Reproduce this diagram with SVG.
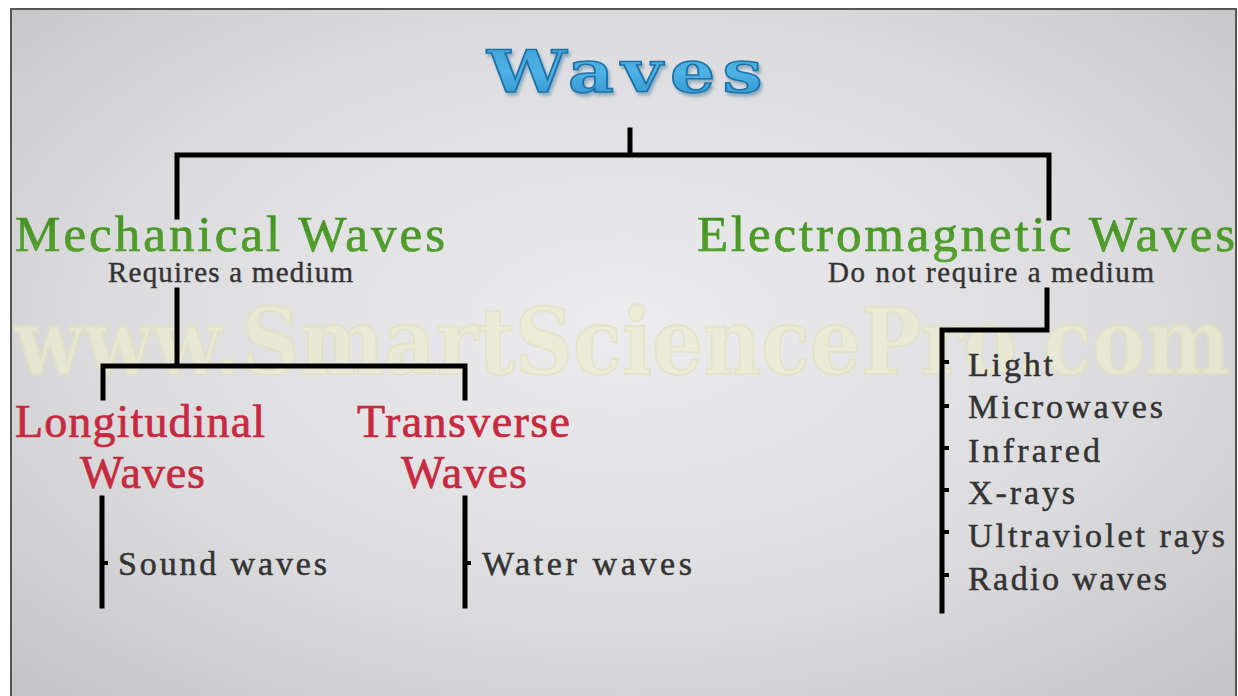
<svg xmlns="http://www.w3.org/2000/svg" width="1238" height="696" viewBox="0 0 1238 696">
<defs>
<radialGradient id="bg" cx="0.5" cy="0.45" r="0.7">
<stop offset="0" stop-color="#ececee"/>
<stop offset="0.6" stop-color="#dcdcde"/>
<stop offset="1" stop-color="#c6c6c8"/>
</radialGradient>
<linearGradient id="blue" x1="0" y1="0" x2="0" y2="1">
<stop offset="0" stop-color="#3a9bd0"/>
<stop offset="0.5" stop-color="#4fb3e6"/>
<stop offset="1" stop-color="#2a8fca"/>
</linearGradient>
<linearGradient id="green" x1="0" y1="0" x2="0" y2="1">
<stop offset="0" stop-color="#3f8a22"/>
<stop offset="1" stop-color="#5aa830"/>
</linearGradient>
<filter id="sh" x="-10%" y="-20%" width="120%" height="150%">
<feDropShadow dx="2" dy="3" stdDeviation="1.5" flood-color="#1b5f8c" flood-opacity="0.4"/>
</filter>
</defs>
<style>
.ln{stroke:#000;stroke-width:5;fill:none;stroke-linecap:square}
.tk{stroke:#000;stroke-width:4;fill:none}
.g{font-family:"Liberation Serif",serif;font-size:51px;fill:url(#green);stroke:#4a9a28;stroke-width:0.7}
.s{font-family:"Liberation Serif",serif;font-size:29px;fill:#333;stroke:#333;stroke-width:0.4}
.r{font-family:"Liberation Serif",serif;font-size:46px;fill:#c62a40;stroke:#c62a40;stroke-width:0.7}
.i{font-family:"Liberation Serif",serif;font-size:34px;fill:#333;stroke:#333;stroke-width:0.5}
.wm{font-family:"DejaVu Serif",serif;font-weight:bold;font-size:92px;fill:#ececcf;stroke:#e2e2bd;stroke-width:2;opacity:0.7}
.t{font-family:"DejaVu Serif",serif;font-weight:bold;font-size:57px;letter-spacing:6px}
</style>
<rect x="0" y="0" width="1238" height="696" fill="#fff"/>
<rect x="11" y="9" width="1225" height="700" fill="url(#bg)" stroke="#555" stroke-width="2"/>
<text class="wm" x="15" y="374" textLength="1215" lengthAdjust="spacingAndGlyphs">www.SmartSciencePro.com</text>
<g id="connectors">
<path class="ln" d="M630 130 V155 M177 217 V155 H1049 V218"/>
<path class="ln" d="M177 290 V366 M103 398 V366 H465 V398"/>
<path class="ln" d="M102 498 V606 M465 498 V606"/>
<path class="tk" d="M102 563 H108 M465 563 H471"/>
<path class="ln" d="M1047 290 V330 H942 V611"/>
<path class="tk" d="M942 362 H949 M942 406 H949 M942 448 H949 M942 490 H949 M942 532 H949 M942 575 H949"/>
</g>
<g id="waves">
<text class="t" x="487" y="92" fill="url(#blue)" stroke="#1f72a8" stroke-width="1.5" filter="url(#sh)" textLength="283" lengthAdjust="spacingAndGlyphs">Waves</text>
</g>
<g id="mechanical">
<text class="g" x="15" y="251" textLength="430" lengthAdjust="spacing">Mechanical Waves</text>
<text class="s" x="108" y="282" textLength="245" lengthAdjust="spacing">Requires a medium</text>
</g>
<g id="electromagnetic">
<text class="g" x="697" y="251" textLength="538" lengthAdjust="spacing">Electromagnetic Waves</text>
<text class="s" x="828" y="282" textLength="326" lengthAdjust="spacing">Do not require a medium</text>
</g>
<g id="longitudinal">
<text class="r" x="15" y="437" textLength="250" lengthAdjust="spacing">Longitudinal</text>
<text class="r" x="80" y="488" textLength="125" lengthAdjust="spacing">Waves</text>
</g>
<g id="transverse">
<text class="r" x="357" y="437" textLength="213" lengthAdjust="spacing">Transverse</text>
<text class="r" x="401" y="488" textLength="126" lengthAdjust="spacing">Waves</text>
</g>
<g id="sound">
<text class="i" x="118" y="575" textLength="209" lengthAdjust="spacing">Sound waves</text>
</g>
<g id="water">
<text class="i" x="482" y="575" textLength="210" lengthAdjust="spacing">Water waves</text>
</g>
<g id="em-list">
<text class="i" x="968" y="376" textLength="85" lengthAdjust="spacing">Light</text>
<text class="i" x="968" y="418" textLength="195" lengthAdjust="spacing">Microwaves</text>
<text class="i" x="968" y="462" textLength="132" lengthAdjust="spacing">Infrared</text>
<text class="i" x="968" y="504" textLength="107" lengthAdjust="spacing">X-rays</text>
<text class="i" x="968" y="547" textLength="257" lengthAdjust="spacing">Ultraviolet rays</text>
<text class="i" x="968" y="590" textLength="199" lengthAdjust="spacing">Radio waves</text>
</g>
</svg>
